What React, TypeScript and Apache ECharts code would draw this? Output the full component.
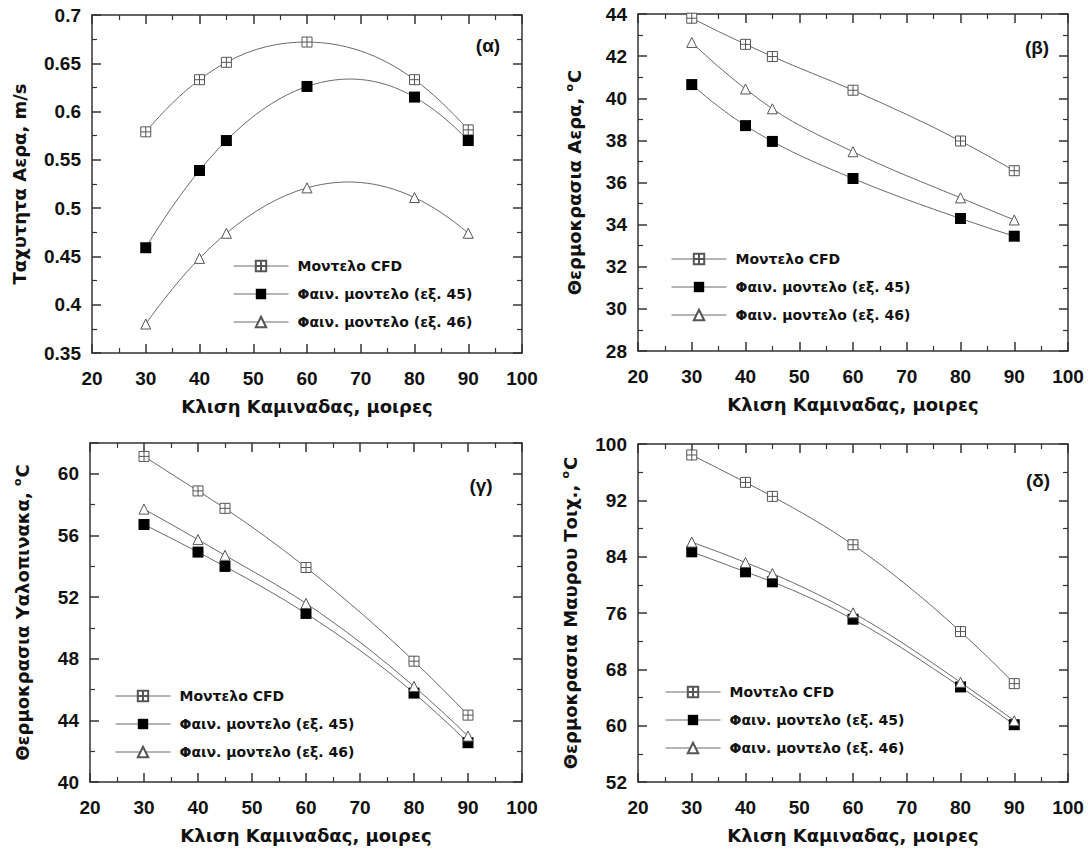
import React, { useEffect, useRef } from "react";
import * as echarts from "echarts";

// ---- data ----
const angles = [30, 40, 45, 60, 80, 90];
const seriesNames = ["Μοντελο CFD", "Φαιν. μοντελο (εξ. 45)", "Φαιν. μοντελο (εξ. 46)"];

// (α) air velocity, m/s
const velCFD = [0.579, 0.633, 0.651, 0.672, 0.633, 0.581];
const velEq45 = [0.459, 0.539, 0.570, 0.626, 0.615, 0.570];
const velEq46 = [0.380, 0.448, 0.474, 0.521, 0.511, 0.474];

// (β) air temperature, oC
const airCFD = [43.8, 42.56, 41.98, 40.38, 37.97, 36.56];
const airEq45 = [40.65, 38.7, 37.95, 36.19, 34.29, 33.45];
const airEq46 = [42.65, 40.44, 39.5, 37.46, 35.27, 34.22];

// (γ) glass temperature, oC
const glassCFD = [61.13, 58.89, 57.76, 53.92, 47.84, 44.34];
const glassEq45 = [56.71, 54.92, 53.99, 50.94, 45.77, 42.55];
const glassEq46 = [57.71, 55.73, 54.71, 51.59, 46.2, 42.98];

// (δ) black wall temperature, oC
const wallCFD = [98.44, 94.55, 92.56, 85.69, 73.36, 65.97];
const wallEq45 = [84.69, 81.85, 80.43, 75.12, 65.5, 60.14];
const wallEq46 = [86.07, 83.18, 81.61, 76.02, 66.16, 60.7];

const xName = "Κλιση Καμιναδας, μοιρες";
const panelLabels = ["(α)", "(β)", "(γ)", "(δ)"];
const yNames = [
  "Ταχυτητα Αερα, m/s",
  "Θερμοκρασια Αερα, {sup|o}C",
  "Θερμοκρασια Υαλοπινακα, {sup|o}C",
  "Θερμοκρασια Μαυρου Τοιχ., {sup|o}C",
];

const NUM_FONT = "Liberation Sans";
const TXT_FONT = "DejaVu Sans";
const AXIS_COLOR = "#333";
const LINE_COLOR = "#6a6a6a";

// smooth curve through the series' points (cubic Hermite, parabolic slopes), in pixel space
function makeCurveRenderer(xs: number[], ys: number[]) {
  return (params: any, api: any) => {
    if (params.dataIndex !== 0) return null;
    const p = xs.map((x, j) => api.coord([x, ys[j]]));
    const n = p.length;
    const h: number[] = [];
    const d: number[] = [];
    for (let i = 0; i < n - 1; i++) {
      h[i] = p[i + 1][0] - p[i][0];
      d[i] = (p[i + 1][1] - p[i][1]) / h[i];
    }
    const m: number[] = [];
    m[0] = ((2 * h[0] + h[1]) * d[0] - h[0] * d[1]) / (h[0] + h[1]);
    const k = n - 2;
    m[n - 1] = ((2 * h[k] + h[k - 1]) * d[k] - h[k] * d[k - 1]) / (h[k] + h[k - 1]);
    for (let i = 1; i < n - 1; i++) {
      m[i] = (d[i - 1] * h[i] + d[i] * h[i - 1]) / (h[i - 1] + h[i]);
    }
    const children: any[] = [];
    for (let i = 0; i < n - 1; i++) {
      const t = h[i] / 3;
      children.push({
        type: "bezierCurve",
        shape: {
          x1: p[i][0],
          y1: p[i][1],
          x2: p[i + 1][0],
          y2: p[i + 1][1],
          cpx1: p[i][0] + t,
          cpy1: p[i][1] + m[i] * t,
          cpx2: p[i + 1][0] - t,
          cpy2: p[i + 1][1] - m[i + 1] * t,
        },
        style: { stroke: LINE_COLOR, lineWidth: 1, fill: null },
      });
    }
    return { type: "group", children };
  };
}

export default function App() {
  const ref = useRef<HTMLDivElement>(null);

  useEffect(() => {
    if (!ref.current) return;
    const chart = echarts.init(ref.current, undefined, { renderer: "svg" });

    const grids = [
      { left: 92, top: 15, width: 430, height: 338 },
      { left: 638, top: 14, width: 430, height: 337 },
      { left: 90, top: 443, width: 432, height: 339 },
      { left: 638, top: 444, width: 430, height: 338 },
    ];

    const yCfg = [
      { min: 0.35, max: 0.7, interval: 0.05, nameGap: 64 },
      { min: 28, max: 44, interval: 2, nameGap: 54 },
      { min: 40, max: 62, interval: 4, nameGap: 58 },
      { min: 52, max: 100, interval: 8, nameGap: 58 },
    ];

    const panels = [
      [velCFD, velEq45, velEq46],
      [airCFD, airEq45, airEq46],
      [glassCFD, glassEq45, glassEq46],
      [wallCFD, wallEq45, wallEq46],
    ];

    const axisLine = { show: true, onZero: false, lineStyle: { color: AXIS_COLOR, width: 1.5 } };
    const axisTick = { show: true, inside: true, length: 9, lineStyle: { color: AXIS_COLOR, width: 1.5 } };
    const minorTick = { show: true, splitNumber: 2, length: 5, lineStyle: { color: AXIS_COLOR, width: 1.2 } };
    const labelStyle = { fontSize: 19, fontWeight: "bold" as const, color: "#111", fontFamily: NUM_FONT };
    const nameStyle = {
      fontSize: 18,
      fontWeight: "bold" as const,
      color: "#111",
      fontFamily: TXT_FONT,
      rich: {
        sup: { fontSize: 11, fontWeight: "bold" as const, color: "#111", fontFamily: TXT_FONT, padding: [0, 1, 9, 0] },
      },
    };

    const xAxes: any[] = [];
    const yAxes: any[] = [];
    grids.forEach((_, i) => {
      const xBase = {
        type: "value",
        gridIndex: i,
        min: 20,
        max: 100,
        interval: 10,
        axisLine,
        axisTick,
        minorTick,
        splitLine: { show: false },
      };
      xAxes.push({
        ...xBase,
        position: "bottom",
        axisLabel: { ...labelStyle, margin: 16 },
        name: xName,
        nameLocation: "middle",
        nameGap: 44,
        nameTextStyle: nameStyle,
      });
      xAxes.push({ ...xBase, position: "top", axisLabel: { show: false } });
      const c = yCfg[i];
      const yBase = {
        type: "value",
        gridIndex: i,
        min: c.min,
        max: c.max,
        interval: c.interval,
        axisLine,
        axisTick,
        minorTick,
        splitLine: { show: false },
      };
      yAxes.push({
        ...yBase,
        position: "left",
        axisLabel: { ...labelStyle, margin: 11, showMaxLabel: i === 2 ? false : true },
        name: yNames[i],
        nameLocation: "middle",
        nameGap: c.nameGap,
        nameTextStyle: nameStyle,
      });
      yAxes.push({ ...yBase, position: "right", axisLabel: { show: false } });
    });

    const cfdSymbol = "path://M0,0H10V10H0Z M5,0V10 M0,5H10";
    const seriesStyles = [
      { symbol: cfdSymbol, symbolSize: 10, itemStyle: { color: "#fff", borderColor: "#555", borderWidth: 1 } },
      { symbol: "rect", symbolSize: 11, itemStyle: { color: "#000", borderColor: "#000", borderWidth: 0 } },
      { symbol: "triangle", symbolSize: 10, itemStyle: { color: "#fff", borderColor: "#555", borderWidth: 1 } },
    ];

    const series: any[] = [];
    panels.forEach((vals, i) => {
      vals.forEach((arr, k) => {
        const data = angles.map((a, j) => [a, arr[j]]);
        // smooth connecting curve
        series.push({
          type: "custom",
          name: seriesNames[k] + " (καμπυλη)",
          coordinateSystem: "cartesian2d",
          xAxisIndex: i * 2,
          yAxisIndex: i * 2,
          data,
          silent: true,
          z: 1,
          renderItem: makeCurveRenderer(angles, arr),
        });
        // markers
        series.push({
          type: "line",
          name: seriesNames[k],
          xAxisIndex: i * 2,
          yAxisIndex: i * 2,
          data,
          showAllSymbol: true,
          lineStyle: { color: LINE_COLOR, width: 1, opacity: 0 },
          ...seriesStyles[k],
          z: 3 + k,
        });
      });
    });

    const legendPos = [
      { left: 233, top: 259 },
      { left: 671, top: 252 },
      { left: 115, top: 689 },
      { left: 665, top: 685 },
    ];
    const legends = legendPos.map((p) => ({
      ...p,
      orient: "vertical",
      padding: 0,
      itemWidth: 55,
      itemHeight: 13,
      itemGap: 14,
      selectedMode: false,
      data: seriesNames,
      lineStyle: { color: LINE_COLOR, width: 1, opacity: 1 },
      textStyle: { fontSize: 14, fontWeight: "bold", color: "#111", fontFamily: TXT_FONT, padding: [0, 0, 0, 4] },
    }));

    const labelPos = [
      [488, 45],
      [1037, 47],
      [481, 485],
      [1038, 480],
    ];
    const graphic = panelLabels.map((t, i) => ({
      type: "text",
      x: labelPos[i][0],
      y: labelPos[i][1],
      style: {
        text: t,
        font: `bold 19px '${NUM_FONT}'`,
        fill: "#111",
        textAlign: "center",
        textVerticalAlign: "middle",
      },
    }));

    chart.setOption({
      animation: false,
      backgroundColor: "#fff",
      grid: grids,
      xAxis: xAxes,
      yAxis: yAxes,
      series,
      legend: legends,
      graphic,
    });

    return () => chart.dispose();
  }, []);

  return (
    <div
      ref={ref}
      style={{ position: "absolute", left: 0, top: 0, width: 1088, height: 852 }}
    />
  );
}
